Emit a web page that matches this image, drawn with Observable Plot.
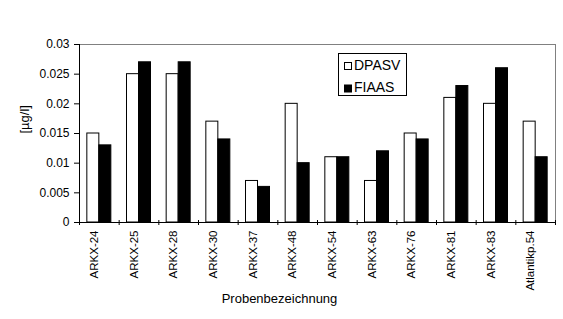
<!DOCTYPE html>
<html>
<head>
<meta charset="utf-8">
<script src="https://cdn.jsdelivr.net/npm/d3@7"></script>
<script src="https://cdn.jsdelivr.net/npm/@observablehq/plot@0.6"></script>
<style>
  html, body { margin: 0; padding: 0; background: #fff; }
  #wrap { position: relative; width: 563px; height: 319px; font-family: "Liberation Sans", Arial, sans-serif; }
  #legend { position: absolute; left: 0; top: 0; }
</style>
</head>
<body>
<div id="wrap"></div>
<script>
const categories = ["ARKX-24","ARKX-25","ARKX-28","ARKX-30","ARKX-37","ARKX-48","ARKX-54","ARKX-63","ARKX-76","ARKX-81","ARKX-83","Atlantikp.54"];
const dpasv = [0.015,0.025,0.025,0.017,0.007,0.020,0.011,0.007,0.015,0.021,0.020,0.017];
const fiaas = [0.013,0.027,0.027,0.014,0.006,0.010,0.011,0.012,0.014,0.023,0.026,0.011];
const yTicks = [0,0.005,0.01,0.015,0.02,0.025,0.03];
const seriesNames = ["DPASV","FIAAS"];

const W = 563, H = 319, mL = 79, mR = 8, mT = 44, mB = 97;
const bw = (W - mL - mR) / categories.length;
const barW = 12;

const rowsD = categories.map((c, i) => ({cat: c, v: dpasv[i]}));
const rowsF = categories.map((c, i) => ({cat: c, v: fiaas[i]}));

const plot = Plot.plot({
  width: W, height: H,
  marginLeft: mL, marginRight: mR, marginTop: mT, marginBottom: mB,
  style: {fontFamily: '"Liberation Sans", Arial, sans-serif', background: "#fff", color: "#000"},
  x: {type: "band", domain: categories, padding: 0, round: false, axis: null},
  y: {domain: [0, 0.03], axis: null},
  marks: [
    Plot.frame({stroke: "#808080"}),
    Plot.barY(rowsD, {x: "cat", y: "v", fill: "#fff", stroke: "#000", strokeWidth: 1,
      insetLeft: bw / 2 - barW, insetRight: bw / 2}),
    Plot.barY(rowsF, {x: "cat", y: "v", fill: "#000", stroke: "#000", strokeWidth: 1,
      insetLeft: bw / 2, insetRight: bw / 2 - barW}),
    Plot.ruleY([0], {stroke: "#000"}),
    Plot.ruleX([categories[0]], {y1: 0, y2: 0.03, dx: -bw / 2, stroke: "#000"}),
    Plot.ruleX(categories, {y1: 0, y2: 0, dx: -bw / 2, insetTop: -2, insetBottom: -3, stroke: "#000"}),
    Plot.ruleX([categories[categories.length - 1]], {y1: 0, y2: 0, dx: bw / 2, insetTop: -2, insetBottom: -3, stroke: "#000"}),
    Plot.axisY({ticks: yTicks, tickSize: 5, tickPadding: 5, fontSize: 12, label: null, tickFormat: d => String(d)}),
    Plot.axisX({tickSize: 0, tickRotate: -90, tickPadding: 8, fontSize: 11.5, label: null, dx: -5}),
    Plot.text(["[µg/l]"], {frameAnchor: "left", rotate: -90, dx: -55, fontSize: 13, fill: "#000"}),
    Plot.text(["Probenbezeichnung"], {frameAnchor: "bottom", dx: -38, dy: 80, fontSize: 13, fill: "#000"})
  ]
});

const wrap = document.getElementById("wrap");
wrap.appendChild(plot);

// Legend (overlay)
const ns = "http://www.w3.org/2000/svg";
const leg = document.createElementNS(ns, "svg");
leg.setAttribute("id", "legend");
leg.setAttribute("width", W);
leg.setAttribute("height", H);
leg.style.pointerEvents = "none";
const fills = ["#fff", "#000"];
const box = document.createElementNS(ns, "rect");
box.setAttribute("x", 338.5); box.setAttribute("y", 53.5);
box.setAttribute("width", 68); box.setAttribute("height", 42);
box.setAttribute("fill", "#fff"); box.setAttribute("stroke", "#000");
leg.appendChild(box);
seriesNames.forEach((name, i) => {
  const yb = 69.5 + i * 22.5;
  const sq = document.createElementNS(ns, "rect");
  sq.setAttribute("x", 344.5); sq.setAttribute("y", yb - 7);
  sq.setAttribute("width", 7); sq.setAttribute("height", 7);
  sq.setAttribute("fill", fills[i]); sq.setAttribute("stroke", "#000");
  leg.appendChild(sq);
  const t = document.createElementNS(ns, "text");
  t.setAttribute("x", 354); t.setAttribute("y", yb);
  t.setAttribute("font-size", 14);
  t.setAttribute("font-family", '"Liberation Sans", Arial, sans-serif');
  t.textContent = name;
  leg.appendChild(t);
});
wrap.appendChild(leg);
</script>
</body>
</html>
